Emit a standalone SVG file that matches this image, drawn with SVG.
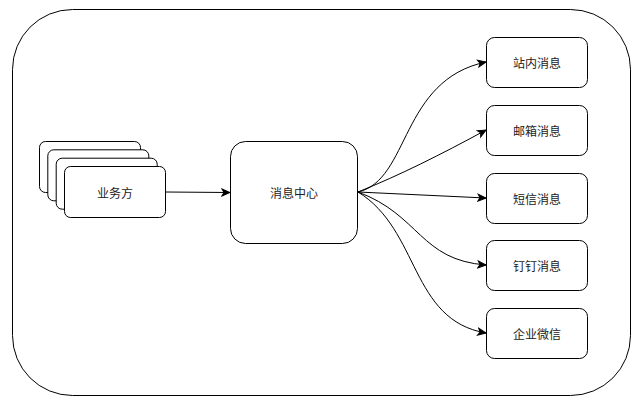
<svg xmlns="http://www.w3.org/2000/svg" width="639" height="409" viewBox="0 0 639 409">
<style>
.box{fill:#fff;stroke:#000;stroke-width:1}
.t{font-family:"Noto Sans CJK SC","Liberation Sans",sans-serif;font-size:12px;fill:#222;text-anchor:middle;dominant-baseline:central}
.e{fill:none;stroke:#000;stroke-width:1}
</style>
<defs>
<marker id="arr" markerWidth="10" markerHeight="10" refX="9" refY="5" orient="auto" markerUnits="userSpaceOnUse">
<path d="M1,1.5 L9,5 L1,8.5 L3,5 Z" fill="#000" stroke="#000" stroke-width="1"/>
</marker>
</defs>
<g id="container"><rect class="box" x="12.5" y="9.5" width="618" height="386" rx="60" ry="60"/></g>
<g id="business">
<rect class="box" x="39.5" y="141.5" width="101" height="51" rx="6"/>
<rect class="box" x="47.8" y="149.8" width="101" height="51" rx="6"/>
<rect class="box" x="56.2" y="158.2" width="101" height="51" rx="6"/>
<rect class="box" x="64.5" y="166.5" width="101" height="51" rx="6"/>
<text class="t" x="115" y="192">业务方</text>
</g>
<g id="center"><rect class="box" x="230.5" y="141.5" width="127" height="102" rx="15"/><text class="t" x="294" y="192.5">消息中心</text></g>
<g id="n1"><rect class="box" x="486.5" y="37.5" width="101" height="50" rx="8"/><text class="t" x="537" y="62.5">站内消息</text></g>
<g id="n2"><rect class="box" x="486.5" y="105.5" width="101" height="50" rx="8"/><text class="t" x="537" y="130.5">邮箱消息</text></g>
<g id="n3"><rect class="box" x="486.5" y="173.5" width="101" height="50" rx="8"/><text class="t" x="537" y="198.5">短信消息</text></g>
<g id="n4"><rect class="box" x="486.5" y="240.5" width="101" height="50" rx="8"/><text class="t" x="537" y="265.5">钉钉消息</text></g>
<g id="n5"><rect class="box" x="486.5" y="308.5" width="101" height="50" rx="8"/><text class="t" x="537" y="333.5">企业微信</text></g>
<g id="edges">
<path class="e" marker-end="url(#arr)" d="M166,192 L230,192.5"/>
<path class="e" marker-end="url(#arr)" d="M358,192 C410,180 400,80 486,62"/>
<path class="e" marker-end="url(#arr)" d="M358,192 C400,175 440,155 486,130"/>
<path class="e" marker-end="url(#arr)" d="M358,192 L486,198"/>
<path class="e" marker-end="url(#arr)" d="M358,192 C420,215 420,260 486,265"/>
<path class="e" marker-end="url(#arr)" d="M358,192 C420,230 410,320 486,333"/>
</g>
</svg>
